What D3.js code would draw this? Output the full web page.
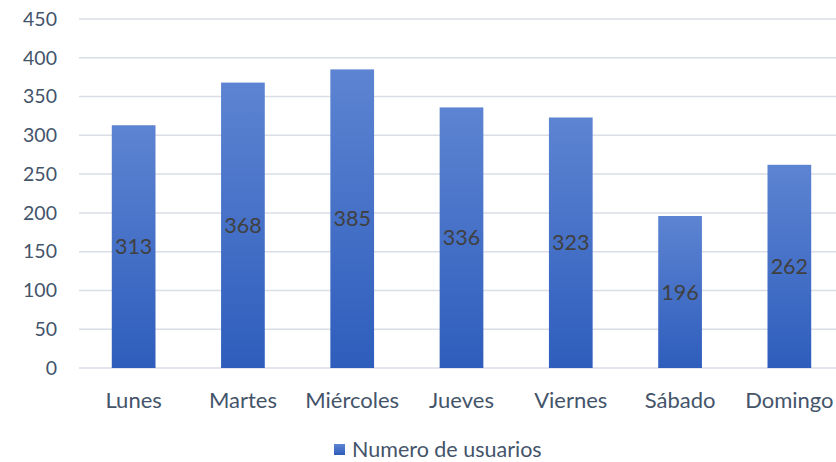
<!DOCTYPE html>
<html lang="en">
<head>
  <meta charset="UTF-8">
  <title>Numero de usuarios</title>
  <style>
    body { margin: 0; background: #fff; }
    text { font-family: Lato, 'Open Sans', sans-serif; }
  </style>
</head>
<body>

  <svg id="svg" width="836" height="462"></svg>

  <script src="https://d3js.org/d3.v7.min.js"></script>
  <script>
    const days = ['Lunes', 'Martes', 'Miércoles', 'Jueves', 'Viernes', 'Sábado', 'Domingo']
    const users = [313, 368, 385, 336, 323, 196, 262]
    const yTicks = [0, 50, 100, 150, 200, 250, 300, 350, 400, 450]
    const seriesName = 'Numero de usuarios'

    const svg = d3.select('#svg')

    // plot area runs a little past the right edge of the picture
    const xScale = d3.scaleBand()
      .domain(days)
      .range([79, 844])
      .paddingInner(0.6)
      .paddingOuter(0.3)

    const yScale = d3.scaleLinear()
      .domain([0, 450])
      .range([368, 19])

    // gradient fill for bars
    const grad = svg.append('defs')
      .append('linearGradient')
      .attr('id', 'barGrad')
      .attr('x1', 0).attr('y1', 0)
      .attr('x2', 0).attr('y2', 1)
    grad.append('stop').attr('offset', '0%').attr('stop-color', '#5d84d2')
    grad.append('stop').attr('offset', '100%').attr('stop-color', '#2e5dbc')

    // gridlines
    svg.append('g')
      .selectAll('line')
      .data(yTicks)
      .enter()
      .append('line')
      .attr('x1', 79)
      .attr('x2', 836)
      .attr('y1', d => yScale(d))
      .attr('y2', d => yScale(d))
      .attr('stroke', '#d9dee6')
      .attr('stroke-width', 1.5)

    // y axis labels
    svg.append('g')
      .selectAll('text')
      .data(yTicks)
      .enter()
      .append('text')
      .text(d => d)
      .attr('x', 57)
      .attr('y', d => yScale(d))
      .attr('dy', '0.35em')
      .attr('text-anchor', 'end')
      .style('font-size', '19.5px')
      .style('fill', '#44546a')

    // bars
    const bars = svg.append('g')
      .selectAll('g')
      .data(days)
      .enter()
      .append('g')

    bars.append('rect')
      .attr('x', d => xScale(d))
      .attr('width', xScale.bandwidth())
      .attr('y', (d, i) => yScale(users[i]))
      .attr('height', (d, i) => yScale(0) - yScale(users[i]))
      .attr('fill', 'url(#barGrad)')

    bars.append('text')
      .text((d, i) => users[i])
      .attr('x', d => xScale(d) + xScale.bandwidth() / 2)
      .attr('y', (d, i) => yScale(users[i] / 2))
      .attr('dy', '0.35em')
      .attr('text-anchor', 'middle')
      .style('font-size', '21.5px')
      .style('fill', '#404040')

    // category labels
    svg.append('g')
      .selectAll('text')
      .data(days)
      .enter()
      .append('text')
      .text(d => d)
      .attr('x', d => xScale(d) + xScale.bandwidth() / 2)
      .attr('y', 400)
      .attr('dy', '0.35em')
      .attr('text-anchor', 'middle')
      .style('font-size', '22px')
      .style('fill', '#44546a')

    // legend
    const legend = svg.append('g')
    legend.append('rect')
      .attr('x', 334)
      .attr('y', 444)
      .attr('width', 11)
      .attr('height', 11)
      .attr('fill', 'url(#barGrad)')
    legend.append('text')
      .text(seriesName)
      .attr('x', 352)
      .attr('y', 449)
      .attr('dy', '0.35em')
      .style('font-size', '21.5px')
      .style('fill', '#44546a')
  </script>
</body>
</html>
